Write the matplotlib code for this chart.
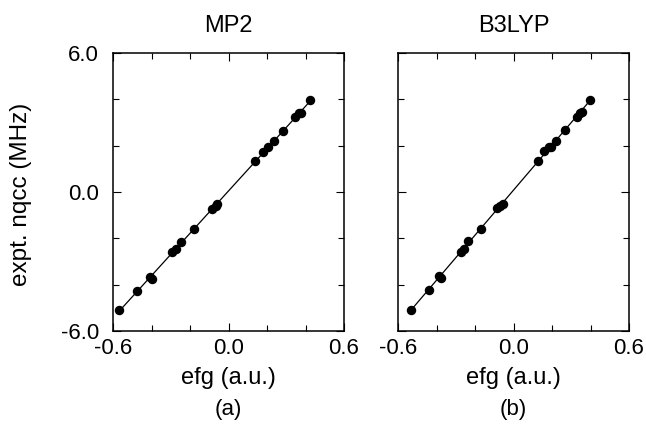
import numpy as np
import matplotlib
matplotlib.use("Agg")
import matplotlib.pyplot as plt
from matplotlib.ticker import MultipleLocator, FixedLocator

plt.rcParams['font.family'] = ['Liberation Sans', 'DejaVu Sans']

# MP2 panel data: efg (a.u.) vs expt. nqcc (MHz)
mp2_efg = [-0.569, -0.475, -0.408, -0.399, -0.292, -0.273, -0.247, -0.178,
           -0.086, -0.065, -0.058, 0.138, 0.181, 0.204, 0.236, 0.283,
           0.347, 0.368, 0.378, 0.425]
mp2_nqcc = [-5.09, -4.26, -3.68, -3.75, -2.60, -2.47, -2.14, -1.61,
            -0.73, -0.59, -0.53, 1.34, 1.74, 1.93, 2.20, 2.65,
            3.22, 3.40, 3.43, 3.96]

# B3LYP panel data
b3lyp_efg = [-0.534, -0.441, -0.389, -0.378, -0.273, -0.256, -0.235, -0.167,
             -0.087, -0.070, -0.056, 0.129, 0.160, 0.184, 0.195, 0.219,
             0.266, 0.328, 0.345, 0.354, 0.397]
b3lyp_nqcc = [-5.09, -4.23, -3.62, -3.72, -2.58, -2.46, -2.11, -1.61,
              -0.70, -0.59, -0.52, 1.35, 1.76, 1.93, 1.93, 2.21,
              2.66, 3.25, 3.40, 3.44, 3.99]

titles = ["MP2", "B3LYP"]
panel_labels = ["(a)", "(b)"]
xticks = [-0.6, 0.0, 0.6]
xticklabels = ["-0.6", "0.0", "0.6"]
yticks = [-6.0, 0.0, 6.0]
yticklabels = ["-6.0", "0.0", "6.0"]

W, H = 646, 430
fig = plt.figure(figsize=(W / 100, H / 100), dpi=100)

panels = [(mp2_efg, mp2_nqcc), (b3lyp_efg, b3lyp_nqcc)]
lefts = [113, 398]
ax_w, top, bot = 231, 53, 331
fs = 16

for i, (xs, ys) in enumerate(panels):
    ax = fig.add_axes([lefts[i] / W, (H - bot) / H, ax_w / W, (bot - top) / H])
    xs = np.array(xs)
    ys = np.array(ys)
    slope, inter = np.polyfit(xs, ys, 1)
    lx = np.array([xs.min(), xs.max()])
    ax.plot(lx, slope * lx + inter, color='black', lw=0.9, zorder=2)
    ax.plot(xs, ys, 'o', color='black', ms=5.8, zorder=3)
    ax.set_xlim(-0.6, 0.6)
    ax.set_ylim(-6.0, 6.0)
    ax.xaxis.set_major_locator(FixedLocator(xticks))
    ax.yaxis.set_major_locator(FixedLocator(yticks))
    ax.xaxis.set_minor_locator(MultipleLocator(0.2))
    ax.yaxis.set_minor_locator(MultipleLocator(2.0))
    ax.set_xticklabels(xticklabels, fontsize=fs)
    if i == 0:
        ax.set_yticklabels(yticklabels, fontsize=fs)
    else:
        ax.set_yticklabels([])
    ax.tick_params(which='both', direction='in', top=True, right=True,
                   width=0.8, color='black')
    ax.tick_params(which='major', length=6, pad=5)
    ax.tick_params(which='minor', length=4)
    ax.tick_params(axis='y', which='major', pad=10)
    for s in ax.spines.values():
        s.set_linewidth(1.1)
    ax.set_title(titles[i], fontsize=fs + 1, pad=15)
    cx = (lefts[i] + ax_w / 2) / W
    fig.text(cx, 1 - 378 / H, "efg (a.u.)", ha='center', va='center', fontsize=fs + 1)
    fig.text(cx, 1 - 410 / H, panel_labels[i], ha='center', va='center', fontsize=fs)

fig.text(21 / W, 1 - 194 / H, "expt. nqcc (MHz)", rotation=90,
         ha='center', va='center', fontsize=fs + 1.5)

fig.savefig("out.png", dpi=100)
